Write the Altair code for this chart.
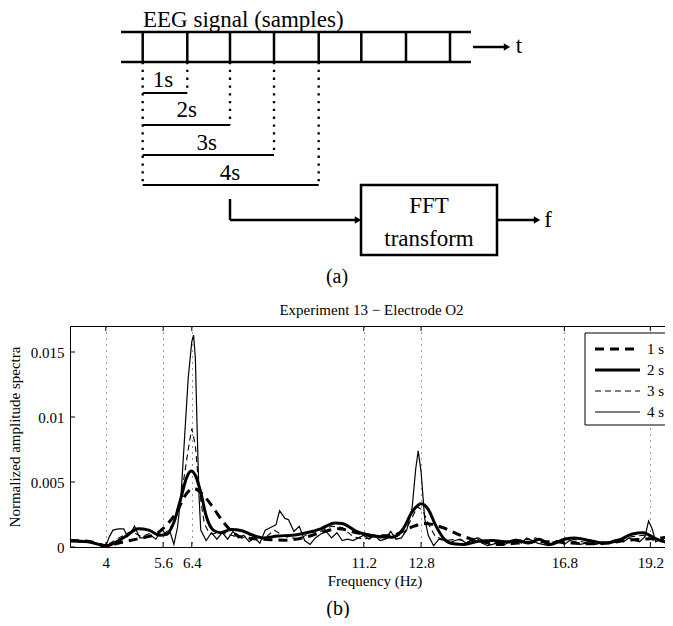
import altair as alt
import pandas as pd

FONT = "Liberation Serif, Times New Roman, Times, DejaVu Serif, serif"

# ---------------- panel (b): spectra ----------------
series_labels = ["1 s", "2 s", "3 s", "4 s"]

freq_1s = [3.0, 3.5, 4.0, 4.5, 5.0, 5.4, 5.7, 6.0, 6.2, 6.45, 6.65, 6.95, 7.3, 7.6, 7.9, 8.5,
           9.0, 9.5, 10.0, 10.5, 11.0, 11.5, 12.0, 12.5, 12.9, 13.4, 13.9, 14.5, 15.0, 15.5,
           16.0, 16.5, 17.0, 17.5, 18.0, 18.5, 19.0, 19.5, 20.0]
amp_1s = [0.00050, 0.00045, 0.00010, 0.00040, 0.00070, 0.00100, 0.00170, 0.00280, 0.00390,
          0.00450, 0.00420, 0.00320, 0.00185, 0.00100, 0.00070, 0.00058, 0.00052, 0.00070,
          0.00110, 0.00140, 0.00110, 0.00085, 0.00090, 0.00150, 0.00180, 0.00150, 0.00090,
          0.00040, 0.00020, 0.00030, 0.00040, 0.00040, 0.00030, 0.00025, 0.00030, 0.00050,
          0.00060, 0.00070, 0.00080]

freq_2s = [3.0, 3.5, 3.8, 4.0, 4.3, 4.6, 4.9, 5.2, 5.5, 5.7, 5.9, 6.1, 6.25, 6.38, 6.5, 6.65,
           6.8, 7.0, 7.2, 7.5, 7.8, 8.1, 8.4, 8.8, 9.2, 9.6, 10.0, 10.4, 10.6, 11.0, 11.5, 12.0,
           12.3, 12.55, 12.8, 13.0, 13.2, 13.45, 13.7, 14.0, 14.4, 14.8, 15.2, 15.5, 15.8, 16.1,
           16.4, 16.8, 17.1, 17.5, 17.9, 18.3, 18.7, 19.0, 19.3, 19.6, 20.0]
amp_2s = [0.00048, 0.00040, 0.00020, 0.00008, 0.00040, 0.00090, 0.00140, 0.00130, 0.00090,
          0.00100, 0.00190, 0.00380, 0.00530, 0.00585, 0.00550, 0.00420, 0.00240, 0.00130,
          0.00110, 0.00135, 0.00125, 0.00090, 0.00070, 0.00085, 0.00090, 0.00110, 0.00140,
          0.00185, 0.00180, 0.00120, 0.00085, 0.00075, 0.00140, 0.00270, 0.00333, 0.00290,
          0.00170, 0.00060, 0.00025, 0.00020, 0.00045, 0.00050, 0.00040, 0.00050, 0.00030,
          0.00060, 0.00020, 0.00060, 0.00070, 0.00050, 0.00030, 0.00050, 0.00100, 0.00110,
          0.00070, 0.00040, 0.00030]

freq_3s = [3.0, 3.5, 4.0, 4.3, 4.7, 5.0, 5.3, 5.6, 5.9, 6.1, 6.3, 6.4, 6.5, 6.6, 6.75, 6.9,
           7.2, 7.5, 7.8, 8.1, 8.4, 8.7, 9.0, 9.4, 9.7, 10.0, 10.3, 10.6, 10.9, 11.2, 11.5,
           11.8, 12.0, 12.3, 12.5, 12.7, 12.85, 13.0, 13.2, 13.5, 13.8, 14.1, 14.4, 14.7,
           15.0, 15.3, 15.6, 16.0, 16.3, 16.6, 16.9, 17.3, 17.6, 18.0, 18.3, 18.7, 19.0,
           19.3, 19.6, 20.0]
amp_3s = [0.00040, 0.00040, 0.00010, 0.00060, 0.00120, 0.00080, 0.00110, 0.00090, 0.00180,
          0.00380, 0.00750, 0.00910, 0.00780, 0.00450, 0.00180, 0.00100, 0.00110, 0.00090,
          0.00070, 0.00100, 0.00060, 0.00130, 0.00080, 0.00060, 0.00110, 0.00120, 0.00160,
          0.00150, 0.00080, 0.00060, 0.00080, 0.00060, 0.00090, 0.00090, 0.00200, 0.00310,
          0.00280, 0.00180, 0.00080, 0.00050, 0.00060, 0.00040, 0.00070, 0.00020, 0.00040,
          0.00030, 0.00050, 0.00070, 0.00020, 0.00050, 0.00070, 0.00040, 0.00020, 0.00030,
          0.00060, 0.00080, 0.00090, 0.00050, 0.00060, 0.00040]

freq_4s = [3.0, 3.25, 3.5, 3.75, 4.0, 4.1, 4.2, 4.35, 4.5, 4.6, 4.7, 4.8, 4.95, 5.1, 5.25,
           5.4, 5.55, 5.7, 5.8, 5.9, 6.0, 6.1, 6.2, 6.3, 6.4, 6.45, 6.5, 6.55, 6.6, 6.65, 6.8,
           6.95, 7.1, 7.25, 7.4, 7.55, 7.7, 7.85, 8.0, 8.15, 8.3, 8.45, 8.6, 8.75, 8.85, 9.0,
           9.1, 9.25, 9.4, 9.55, 9.7, 9.85, 10.0, 10.15, 10.3, 10.45, 10.6, 10.75, 10.9,
           11.05, 11.2, 11.35, 11.5, 11.65, 11.8, 11.95, 12.1, 12.25, 12.4, 12.55, 12.65,
           12.72, 12.8, 12.9, 13.0, 13.15, 13.3, 13.45, 13.6, 13.75, 13.9, 14.05, 14.2, 14.35,
           14.5, 14.65, 14.8, 15.0, 15.15, 15.3, 15.45, 15.6, 15.75, 15.9, 16.05, 16.2, 16.35,
           16.5, 16.65, 16.8, 16.95, 17.1, 17.25, 17.4, 17.55, 17.7, 17.85, 18.0, 18.15, 18.3,
           18.45, 18.6, 18.75, 18.9, 19.05, 19.15, 19.25, 19.35, 19.5, 19.65, 19.8, 20.0]
amp_4s = [0.00050, 0.00040, 0.00040, 0.00030, 0.00010, 0.00080, 0.00130, 0.00140, 0.00140,
          0.00080, 0.00110, 0.00160, 0.00070, 0.00070, 0.00090, 0.00060, 0.00140, 0.00090,
          0.00110, 0.00020, 0.00150, 0.00400, 0.00850, 0.01300, 0.01580, 0.01630, 0.01450,
          0.00900, 0.00400, 0.00130, 0.00050, 0.00110, 0.00060, 0.00110, 0.00060, 0.00120,
          0.00070, 0.00090, 0.00040, 0.00070, 0.00030, 0.00130, 0.00150, 0.00170, 0.00280,
          0.00220, 0.00210, 0.00120, 0.00160, 0.00050, 0.00020, 0.00070, 0.00100, 0.00120,
          0.00070, 0.00110, 0.00050, 0.00060, 0.00050, 0.00070, 0.00090, 0.00060, 0.00090,
          0.00050, 0.00060, 0.00120, 0.00060, 0.00070, 0.00130, 0.00300, 0.00600, 0.00740,
          0.00580, 0.00220, 0.00090, 0.00010, 0.00060, 0.00050, 0.00030, 0.00050, 0.00060,
          0.00030, 0.00050, 0.00070, 0.00030, 0.00010, 0.00020, 0.00040, 0.00020, 0.00050,
          0.00060, 0.00030, 0.00070, 0.00050, 0.00030, 0.00020, 0.00010, 0.00030, 0.00040,
          0.00020, 0.00050, 0.00040, 0.00020, 0.00030, 0.00050, 0.00020, 0.00040, 0.00030,
          0.00050, 0.00060, 0.00040, 0.00070, 0.00050, 0.00040, 0.00080, 0.00200, 0.00140,
          0.00040, 0.00060, 0.00030, 0.00050, 0.00040]

x_ticks = [4, 5.6, 6.4, 11.2, 12.8, 16.8, 19.2]
y_ticks = [0, 0.005, 0.01, 0.015]
plot_title = "Experiment 13 \u2212 Electrode O2"
x_title = "Frequency (Hz)"
y_title = "Normalized amplitude spectra"

# ---------------- panel (a): block diagram geometry ----------------
sample_edges_x = [142.7, 187.3, 230, 274, 318.7, 361.3, 406, 450]
window_labels = ["1s", "2s", "3s", "4s"]
window_end_x = [187.3, 230, 274, 318.7]
window_y = [93, 125, 155, 185]
window_label_x = [163, 186.7, 206.7, 230]
window_label_y = [80, 110, 143, 173]

LEFT = 62            # page x of plot origin = 8 + LEFT
W_B, H_B = 609, 221
W_A, H_A = 595, 279
Y_A0 = 8
X_A0 = 8 + LEFT

# ---------------- build panel (a) ----------------
thick = [(121, 32, 471, 32), (121, 62, 471, 62)]
thick += [(x, 32, x, 62) for x in sample_edges_x]
thick += [(473, 47, 504, 47), (230, 199, 230, 220), (230, 220, 355, 220), (497, 220, 534, 220)]
df_thick = pd.DataFrame(thick, columns=["x1", "y1", "x2", "y2"])

df_win = pd.DataFrame({"x1": [sample_edges_x[0]] * 4, "x2": window_end_x,
                       "y1": window_y, "y2": window_y})
dotted = [(sample_edges_x[0], 62, sample_edges_x[0], window_y[-1])]
dotted += [(x, 62, x, y) for x, y in zip(window_end_x, window_y)]
df_dot = pd.DataFrame(dotted, columns=["x1", "y1", "x2", "y2"])

df_box = pd.DataFrame({"x1": [361], "x2": [497], "y1": [185], "y2": [255]})
df_heads = pd.DataFrame({"x": [507, 358, 537], "y": [47, 220, 220]})

df_text_c = pd.DataFrame({
    "x": window_label_x + [519, 548, 429, 429, 337],
    "y": window_label_y + [46, 220, 206, 239, 277],
    "t": window_labels + ["t", "f", "FFT", "transform", "(a)"],
    "s": [23, 23, 23, 23, 23, 23, 23, 23, 20],
})
df_text_l = pd.DataFrame({"x": [143], "y": [19.5], "t": ["EEG signal (samples)"]})

xa = alt.X("x1:Q", scale=alt.Scale(domain=[X_A0, X_A0 + W_A], nice=False, zero=False), axis=None)
ya = alt.Y("y1:Q", scale=alt.Scale(domain=[Y_A0, Y_A0 + H_A], nice=False, zero=False, reverse=True), axis=None)

seg_thick = alt.Chart(df_thick).mark_rule(color="black", strokeWidth=2.5).encode(
    x=xa, y=ya, x2="x2:Q", y2="y2:Q")
seg_win = alt.Chart(df_win).mark_rule(color="black", strokeWidth=2).encode(
    x="x1:Q", y="y1:Q", x2="x2:Q", y2="y2:Q")
seg_dot = alt.Chart(df_dot).mark_rule(color="black", strokeWidth=2.3, strokeDash=[2.3, 5.5]).encode(
    x="x1:Q", y="y1:Q", x2="x2:Q", y2="y2:Q")
box = alt.Chart(df_box).mark_rect(filled=False, stroke="black", strokeWidth=2.5).encode(
    x="x1:Q", y="y1:Q", x2="x2:Q", y2="y2:Q")
heads = alt.Chart(df_heads).mark_point(shape="triangle-right", filled=True, size=55,
                                        color="black", opacity=1).encode(
    x=alt.X("x:Q", scale=alt.Scale(domain=[X_A0, X_A0 + W_A])),
    y=alt.Y("y:Q", scale=alt.Scale(domain=[Y_A0, Y_A0 + H_A], reverse=True)))
txt_c = alt.Chart(df_text_c).mark_text(font=FONT, color="black", align="center",
                                       baseline="middle").encode(
    x="x:Q", y="y:Q", text="t:N", size=alt.Size("s:Q", scale=None, legend=None))
txt_l = alt.Chart(df_text_l).mark_text(font=FONT, color="black", align="left",
                                       baseline="middle", fontSize=23).encode(
    x="x:Q", y="y:Q", text="t:N")

panel_a = alt.layer(seg_thick, seg_win, seg_dot, box, heads, txt_c, txt_l).properties(
    width=W_A, height=H_A, view=alt.ViewBackground(strokeOpacity=0))

# ---------------- build panel (b) ----------------
styles = {
    "1 s": dict(strokeWidth=3, strokeDash=[9, 6], interpolate="monotone"),
    "2 s": dict(strokeWidth=3, interpolate="monotone"),
    "3 s": dict(strokeWidth=1.1, strokeDash=[6, 4]),
    "4 s": dict(strokeWidth=1.2),
}
series_data = {
    "1 s": (freq_1s, amp_1s),
    "2 s": (freq_2s, amp_2s),
    "3 s": (freq_3s, amp_3s),
    "4 s": (freq_4s, amp_4s),
}

xb = alt.X("freq:Q", scale=alt.Scale(domain=[3, 20], nice=False, zero=False),
           axis=alt.Axis(values=x_ticks, format=".3~g", title=x_title, grid=True,
                         gridDash=[1, 5], gridColor="#333333", gridWidth=1,
                         ticks=False, tickSize=0, domain=False, labelPadding=8,
                         titlePadding=3, labelFont=FONT, labelFontSize=15,
                         titleFont=FONT, titleFontSize=15, titleFontWeight="normal",
                         labelColor="black", titleColor="black"))
yb = alt.Y("amp:Q", scale=alt.Scale(domain=[0, 0.017], nice=False),
           axis=alt.Axis(values=y_ticks, format=".3~g", title=y_title, grid=False,
                         ticks=False, tickSize=0, domain=False, labelPadding=6,
                         titlePadding=8, labelFont=FONT, labelFontSize=15,
                         titleFont=FONT, titleFontSize=15, titleFontWeight="normal",
                         labelColor="black", titleColor="black"))

layers = []
for i, lab in enumerate(series_labels):
    f, a = series_data[lab]
    df = pd.DataFrame({"freq": f, "amp": a})
    enc = dict(x=xb, y=yb) if i == 0 else dict(x="freq:Q", y="amp:Q")
    layers.append(alt.Chart(df).mark_line(color="black", clip=True, **styles[lab]).encode(**enc))

df_xt = pd.DataFrame({"freq": x_ticks})
df_yt = pd.DataFrame({"amp": y_ticks})
layers.append(alt.Chart(df_xt).mark_rule(color="black", strokeWidth=1).encode(
    x="freq:Q", y=alt.value(0), y2=alt.value(5)))
layers.append(alt.Chart(df_xt).mark_rule(color="black", strokeWidth=1).encode(
    x="freq:Q", y=alt.value(H_B), y2=alt.value(H_B - 5)))
layers.append(alt.Chart(df_yt).mark_rule(color="black", strokeWidth=1).encode(
    y="amp:Q", x=alt.value(0), x2=alt.value(5)))
layers.append(alt.Chart(df_yt).mark_rule(color="black", strokeWidth=1).encode(
    y="amp:Q", x=alt.value(W_B), x2=alt.value(W_B - 5)))

# legend (drawn as guide marks)
LEG_X0, LEG_X1, LEG_Y0, LEG_Y1 = 515, 612, 7, 99
layers.append(alt.Chart(pd.DataFrame({"k": [0]})).mark_rect(
    fill="white", stroke="black", strokeWidth=1).encode(
    x=alt.value(LEG_X0), x2=alt.value(LEG_X1), y=alt.value(LEG_Y0), y2=alt.value(LEG_Y1)))
for i, lab in enumerate(series_labels):
    st = {k: v for k, v in styles[lab].items() if k != "interpolate"}
    yy = 23 + 21 * i
    layers.append(alt.Chart(pd.DataFrame({"label": [lab]})).mark_rule(color="black", **st).encode(
        x=alt.value(525), x2=alt.value(570), y=alt.value(yy)))
    layers.append(alt.Chart(pd.DataFrame({"label": [lab]})).mark_text(
        font=FONT, fontSize=15, color="black", align="left", baseline="middle").encode(
        text="label:N", x=alt.value(577), y=alt.value(yy)))

layers.append(alt.Chart(pd.DataFrame({"label": ["(b)"]})).mark_text(
    font=FONT, fontSize=20, color="black", align="center", baseline="middle").encode(
    text="label:N", x=alt.value(268), y=alt.value(283)))

panel_b = alt.layer(*layers).properties(
    width=W_B, height=H_B,
    title=alt.TitleParams(plot_title, font=FONT, fontSize=15, fontWeight="normal",
                          color="black", anchor="middle", frame="group", offset=8,
                          dx=-3),
    view=alt.ViewBackground(stroke="black", strokeWidth=1),
)

chart = alt.vconcat(panel_a, panel_b, spacing=15).properties(
    autosize=alt.AutoSizeParams(type="none"),
    padding={"left": LEFT, "top": 0, "right": 657 - LEFT, "bottom": 610},
).configure(font=FONT).configure_view(stroke="black")

chart.save("out.html", embed_options={"renderer": "svg", "actions": False})
